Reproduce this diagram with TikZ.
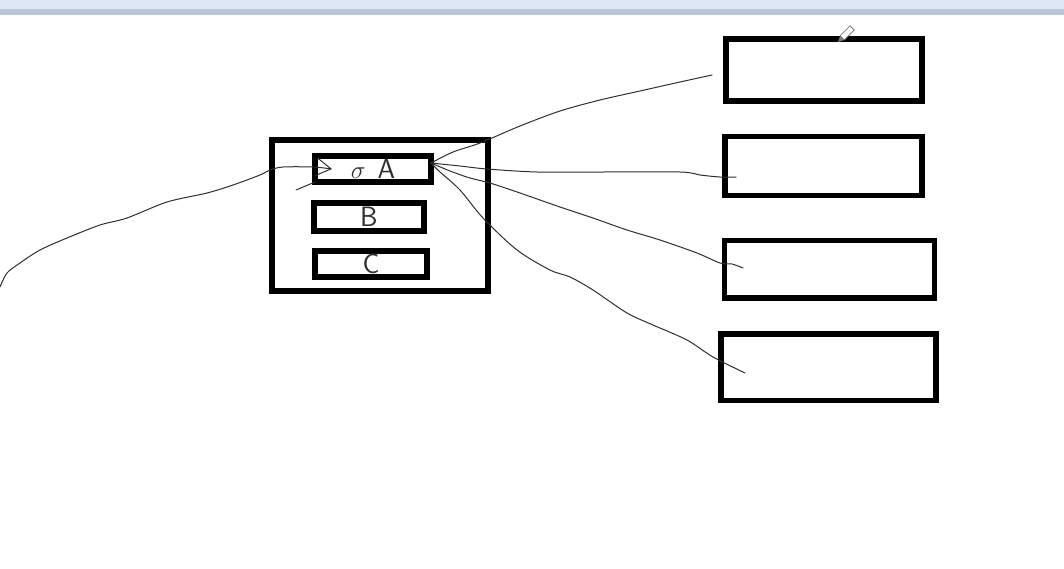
\documentclass[tikz,border=0pt]{standalone}
\usetikzlibrary{arrows.meta}
\definecolor{pntInk}{HTML}{000000}
\definecolor{pntWire}{HTML}{303030}
\definecolor{pntBar}{HTML}{DEE7F5}
\definecolor{pntRule}{HTML}{BCC5D5}
\definecolor{pntLead}{HTML}{7C7C7C}
\tikzset{
  pnt box/.style={draw=pntInk, line width=5.5pt, inner sep=0pt, outer sep=0pt},
  pnt wire/.style={draw=pntWire, line width=1pt, line join=round, line cap=round},
  pnt hand/.style={font=\fontsize{28}{32}\selectfont\sffamily, text=pntWire},
}

\begin{document}
\begin{tikzpicture}[x=1pt,y=-1pt]
\fill[white](0,0)rectangle(1064,568);\useasboundingbox(0,0)rectangle(1064,568);
\fill[pntBar](0,0)rectangle(1064,8.5);\fill[pntRule](0,8.5)rectangle(1064,15);
% main frame and its three slots
\node[pnt box,minimum width=216pt,minimum height=151pt](frame)at(380,215.5){};
\node[pnt box,pnt hand,minimum width=116pt,minimum height=26pt](A)at(373,169){$\sigma$\hspace{12pt}A\hspace{10pt}};
\node[pnt box,pnt hand,minimum width=110pt,minimum height=28pt](B)at(369,217){B};
\node[pnt box,pnt hand,minimum width=112pt,minimum height=26pt](C)at(371,264){C};
% boxes on the right
\foreach \n/\cx/\cy/\w/\h in {R1/824/70/196/62,R2/823.4/165.8/197/59,R3/829.7/269.2/210/57.7,R4/828.3/367.2/215/66.3}{
  \node[pnt box,minimum width=\w pt,minimum height=\h pt](\n)at(\cx,\cy){};}
\coordinate(fan)at([yshift=6pt]A.east);\coordinate(lfree)at(0,287);\coordinate(tail)at(296,190);
\coordinate(t1)at(712,75);\coordinate(t2)at(736,177);\coordinate(t3)at(743,268);\coordinate(t4)at(745,373);
% hand drawn wires
\draw[pnt wire,-{Straight Barb[length=15pt,width=18pt]}]plot[smooth]coordinates{(lfree)(7,273)(20,263)(40,250)(67,238)(100,225)(127,218)(167,202)(207,193)(233,185)(260,175)(270,170)(283,167)(313,167)([xshift=17pt]A.west)};
\draw[pnt wire](tail)--(A.south west);
\draw[pnt wire]plot[smooth]coordinates{(fan)(453,152)(480,143)(520,126)(560,111)(600,100)(640,91)(680,82)(t1)};
\draw[pnt wire]plot[smooth]coordinates{(fan)(460,166)(487,169)(537,172)(600,172)(680,172)(700,175)(720,177)(t2)};
\draw[pnt wire]plot[smooth]coordinates{(fan)(450,171)(470,178)(490,183)(520,193)(560,207)(593,218)(627,230)(660,240)(697,253)(720,263)(732,264)(t3)};
\draw[pnt wire]plot[smooth]coordinates{(fan)(440,172)(460,190)(483,218)(517,250)(550,270)(570,277)(593,290)(627,313)(653,325)(687,340)(713,357)(t4)};
% pencil cursor
\fill[white,draw=pntLead,line width=0.8pt](844.3,39.9)--(854.2,30)--(850,25.8)--(840.1,35.7)--cycle;
\fill[pntLead](838,42)--(844.3,39.9)--(840.1,35.7)--cycle;
\end{tikzpicture}
\end{document}
